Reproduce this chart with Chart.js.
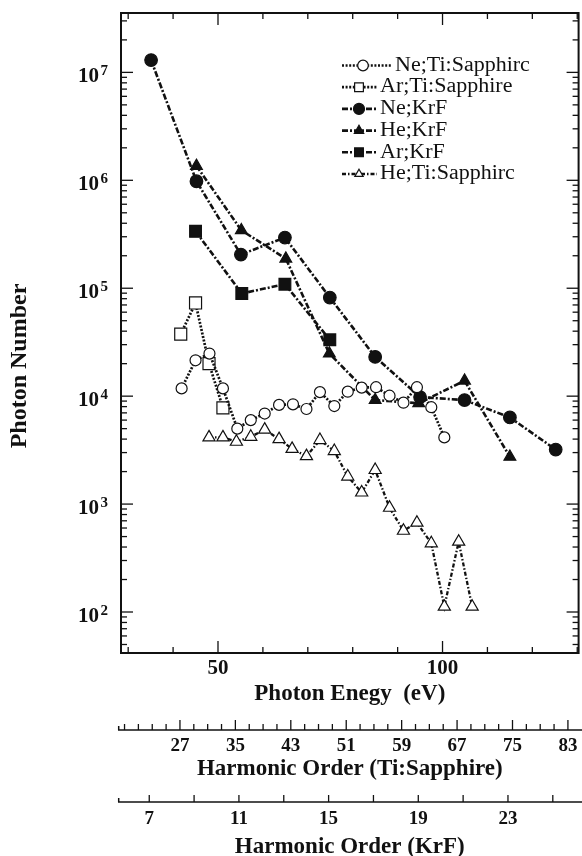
<!DOCTYPE html>
<html>
<head>
<meta charset="utf-8">
<script src="https://cdn.jsdelivr.net/npm/chart.js@4.4.1/dist/chart.umd.min.js"></script>
<style>
  html, body { margin: 0; padding: 0; background: #fff; }
  #wrap { width: 582px; height: 856px; }
</style>
</head>
<body>
<div id="wrap"><canvas id="photonChart" width="582" height="856"></canvas></div>
<script>
// photon energy (eV) / photon number, one pair of arrays per series
const neTiE = [41.9, 45.0, 48.1, 51.1, 54.3, 57.3, 60.4, 63.6, 66.7, 69.7, 72.7, 75.9, 78.9, 82.0, 85.2, 88.2, 91.3, 94.3, 97.5, 100.4];
const neTiN = [11800, 21500, 24800, 11800, 5000, 6000, 6900, 8300, 8400, 7600, 10900, 8100, 11000, 12000, 12100, 10100, 8700, 12100, 7900, 4150];

const arTiE = [41.7, 45.0, 48.0, 51.1];
const arTiN = [37500, 73000, 20000, 7800];

const neKrE = [35.1, 45.2, 55.1, 64.9, 74.9, 85.0, 95.0, 104.9, 115.0, 125.2];
const neKrN = [1.3e7, 9.8e5, 2.05e5, 2.95e5, 82000, 23100, 9800, 9200, 6350, 3200];

const heKrE = [45.2, 55.2, 65.1, 74.8, 85.0, 94.7, 104.9, 115.0];
const heKrN = [1.36e6, 3.44e5, 1.88e5, 24800, 9200, 8600, 13900, 2740];

const arKrE = [45.0, 55.3, 64.9, 74.9];
const arKrN = [3.37e5, 89400, 1.09e5, 33300];

const heTiE = [48.0, 51.1, 54.1, 57.3, 60.4, 63.6, 66.5, 69.7, 72.7, 75.9, 78.9, 82.0, 85.0, 88.2, 91.3, 94.3, 97.5, 100.4, 103.6, 106.6];
const heTiN = [4150, 4150, 3780, 4200, 4900, 4000, 3250, 2780, 3920, 3100, 1800, 1280, 2070, 925, 566, 672, 433, 112, 448, 112];

const seriesNames = ['Ne;Ti:Sapphirc', 'Ar;Ti:Sapphire', 'Ne;KrF', 'He;KrF', 'Ar;KrF', 'He;Ti:Sapphirc'];

// axis labels
const energyLabels = [50, 100];
const yDecades = [2, 3, 4, 5, 6, 7];
const tiOrderLabels = [27, 35, 43, 51, 59, 67, 75, 83];
const krfOrderLabels = [7, 11, 15, 19, 23];

const INK = '#111';
const SERIF = "'Liberation Serif', 'Times New Roman', serif";
const dotted = [2, 1.6];
const dashDot = [6, 2, 2, 2];

const pts = (xs, ys) => xs.map((x, i) => ({ x, y: ys[i] }));

const series = (label, xs, ys, style, radius, filled, dash, width) => ({
  label,
  data: pts(xs, ys),
  borderColor: INK,
  borderWidth: width,
  borderDash: dash,
  pointStyle: style,
  pointRadius: radius,
  pointBackgroundColor: filled ? INK : '#fff',
  pointBorderColor: INK,
  pointBorderWidth: 1.2,
  tension: 0,
  fill: false,
});

const legendRadius = [5.3, 6.2, 5.5, 5.4, 6.2, 4.8];

const decor = {
  id: 'decor',
  beforeDatasetsDraw(chart) {
    const { ctx, chartArea: a, scales } = chart;
    const { x, y, x2, x3 } = scales;
    const seg = (x0, y0, x1, y1) => { ctx.beginPath(); ctx.moveTo(x0, y0); ctx.lineTo(x1, y1); ctx.stroke(); };
    ctx.save();
    ctx.strokeStyle = INK;
    ctx.fillStyle = INK;

    // box
    ctx.lineWidth = 2;
    ctx.strokeRect(a.left, a.top, a.right - a.left, a.bottom - a.top);

    // energy ticks, bottom and top, pointing in
    ctx.lineWidth = 1.3;
    for (let e = 30; e <= 130; e += 10) {
      const px = x.getPixelForValue(e);
      const len = energyLabels.includes(e) ? 12 : 6;
      seg(px, a.bottom, px, a.bottom - len);
      seg(px, a.top, px, a.top + len);
    }

    // log ticks left and right
    for (let n = 1; n <= 7; n++) {
      for (let m = 1; m <= 9; m++) {
        const v = m * Math.pow(10, n);
        if (v < y.min || v > y.max) continue;
        const py = y.getPixelForValue(v);
        const len = m === 1 ? 12 : 6;
        seg(a.left, py, a.left + len, py);
        seg(a.right, py, a.right - len, py);
      }
    }

    // 10^n labels
    for (const n of yDecades) {
      const py = y.getPixelForValue(Math.pow(10, n));
      ctx.font = `bold 21px ${SERIF}`;
      ctx.textAlign = 'right';
      ctx.textBaseline = 'alphabetic';
      ctx.fillText('10', 99, py + 9.5);
      ctx.font = `bold 15px ${SERIF}`;
      ctx.textAlign = 'left';
      ctx.fillText(String(n), 100.5, py + 3);
    }

    // y title
    ctx.save();
    ctx.translate(19.5, 366);
    ctx.rotate(-Math.PI / 2);
    ctx.font = `bold 24px ${SERIF}`;
    ctx.textAlign = 'center';
    ctx.textBaseline = 'middle';
    ctx.fillText('Photon Number', 0, 0);
    ctx.restore();

    // harmonic order axes, ticks pointing up
    const orderAxis = (s, from, to, majors, majorLen, minorLen) => {
      const ly = s.top;
      ctx.lineWidth = 1.5;
      seg(118, ly, chart.width, ly);
      seg(118.7, ly, 118.7, ly - 4);
      ctx.lineWidth = 1.3;
      for (let q = from; q <= to; q += 2) {
        const px = s.getPixelForValue(q);
        if (px < 121 || px > chart.width - 1) continue;
        seg(px, ly, px, ly - (majors.includes(q) ? majorLen : minorLen));
      }
    };
    orderAxis(x2, 19, 85, tiOrderLabels, 10, 6);
    orderAxis(x3, 5, 27, krfOrderLabels, 7, 7);
    ctx.restore();
  },
  afterDatasetsDraw(chart) {
    const { ctx } = chart;
    ctx.save();
    ctx.strokeStyle = INK;
    chart.data.datasets.forEach((ds, i) => {
      const ry = 65.5 + i * 21.7;
      const wide = i === 0;
      const x0 = 342, x1 = wide ? 391 : 377;
      const cx = wide ? 363 : 359;
      const tx = wide ? 395 : 380;
      ctx.setLineDash(ds.borderDash);
      ctx.lineWidth = ds.borderWidth;
      ctx.beginPath(); ctx.moveTo(x0, ry); ctx.lineTo(x1, ry); ctx.stroke();
      ctx.setLineDash([]);
      ctx.lineWidth = 1.2;
      ctx.fillStyle = ds.pointBackgroundColor;
      Chart.helpers.drawPoint(ctx, { pointStyle: ds.pointStyle, radius: legendRadius[i], rotation: 0, borderWidth: 1.2 }, cx, ry);
      ctx.fillStyle = INK;
      ctx.font = `20px ${SERIF}`;
      ctx.textAlign = 'left';
      ctx.textBaseline = 'middle';
      ctx.save();
      ctx.translate(tx, ry);
      ctx.scale(1.1, 1);
      ctx.fillText(ds.label, 0, 0);
      ctx.restore();
    });
    ctx.restore();
  }
};

const tickFont = (size) => ({ family: SERIF, size, weight: 'bold' });
const titleFont = (lh) => ({ family: SERIF, size: 23, weight: 'bold', lineHeight: lh });

new Chart(document.getElementById('photonChart'), {
  type: 'line',
  data: {
    datasets: [
      series(seriesNames[0], neTiE, neTiN, 'circle', 5.5, false, dotted, 2.7),
      series(seriesNames[1], arTiE, arTiN, 'rect', 8.5, false, dotted, 2.7),
      series(seriesNames[2], neKrE, neKrN, 'circle', 6.3, true, dashDot, 2.6),
      series(seriesNames[3], heKrE, heKrN, 'triangle', 6.8, true, dashDot, 2.6),
      series(seriesNames[4], arKrE, arKrN, 'rect', 8.3, true, dashDot, 2.6),
      series(seriesNames[5], heTiE, heTiN, 'triangle', 7, false, [4, 2, 1.5, 2], 2.3),
    ],
  },
  options: {
    responsive: false,
    animation: false,
    devicePixelRatio: 1,
    events: [],
    layout: { autoPadding: false, padding: { left: 0, right: 3, top: 13, bottom: 0 } },
    plugins: {
      legend: { display: false },
      tooltip: { enabled: false },
    },
    scales: {
      x: {
        type: 'linear',
        position: 'bottom',
        weight: 0,
        min: 28.4,
        max: 130.3,
        afterBuildTicks: (s) => { s.ticks = energyLabels.map((v) => ({ value: v })); },
        afterFit: (s) => { s.height = 77; },
        ticks: { font: tickFont(21), color: INK, padding: 3, autoSkip: false, maxRotation: 0 },
        grid: { display: false, drawTicks: false },
        border: { display: false },
        title: { display: true, text: 'Photon Enegy  (eV)', color: INK, font: titleFont(1.2), padding: { top: 0, bottom: 22 } },
      },
      x2: {
        type: 'linear',
        position: 'bottom',
        weight: 1,
        min: 18.49,
        max: 84.54,
        afterBuildTicks: (s) => { s.ticks = tiOrderLabels.map((v) => ({ value: v })); },
        afterFit: (s) => { s.height = 72; },
        ticks: { font: tickFont(19), color: INK, padding: 4.5, autoSkip: false, maxRotation: 0 },
        grid: { display: false, drawTicks: false },
        border: { display: false },
        title: { display: true, text: 'Harmonic Order (Ti:Sapphire)', color: INK, font: titleFont(1.2), padding: { top: 0, bottom: 19 } },
      },
      x3: {
        type: 'linear',
        position: 'bottom',
        weight: 2,
        min: 5.74,
        max: 26.15,
        afterBuildTicks: (s) => { s.ticks = krfOrderLabels.map((v) => ({ value: v })); },
        afterFit: (s) => { s.height = 54; },
        ticks: { font: tickFont(19), color: INK, padding: 5.8, autoSkip: false, maxRotation: 0 },
        grid: { display: false, drawTicks: false },
        border: { display: false },
        title: { display: true, text: 'Harmonic Order (KrF)', color: INK, font: titleFont(0.8), padding: { top: 0, bottom: 0 } },
      },
      y: {
        type: 'logarithmic',
        min: 41.7,
        max: 3.55e7,
        afterFit: (s) => { s.width = 121; },
        ticks: { display: false },
        grid: { display: false, drawTicks: false },
        border: { display: false },
      },
    },
  },
  plugins: [decor],
});
</script>
</body>
</html>
